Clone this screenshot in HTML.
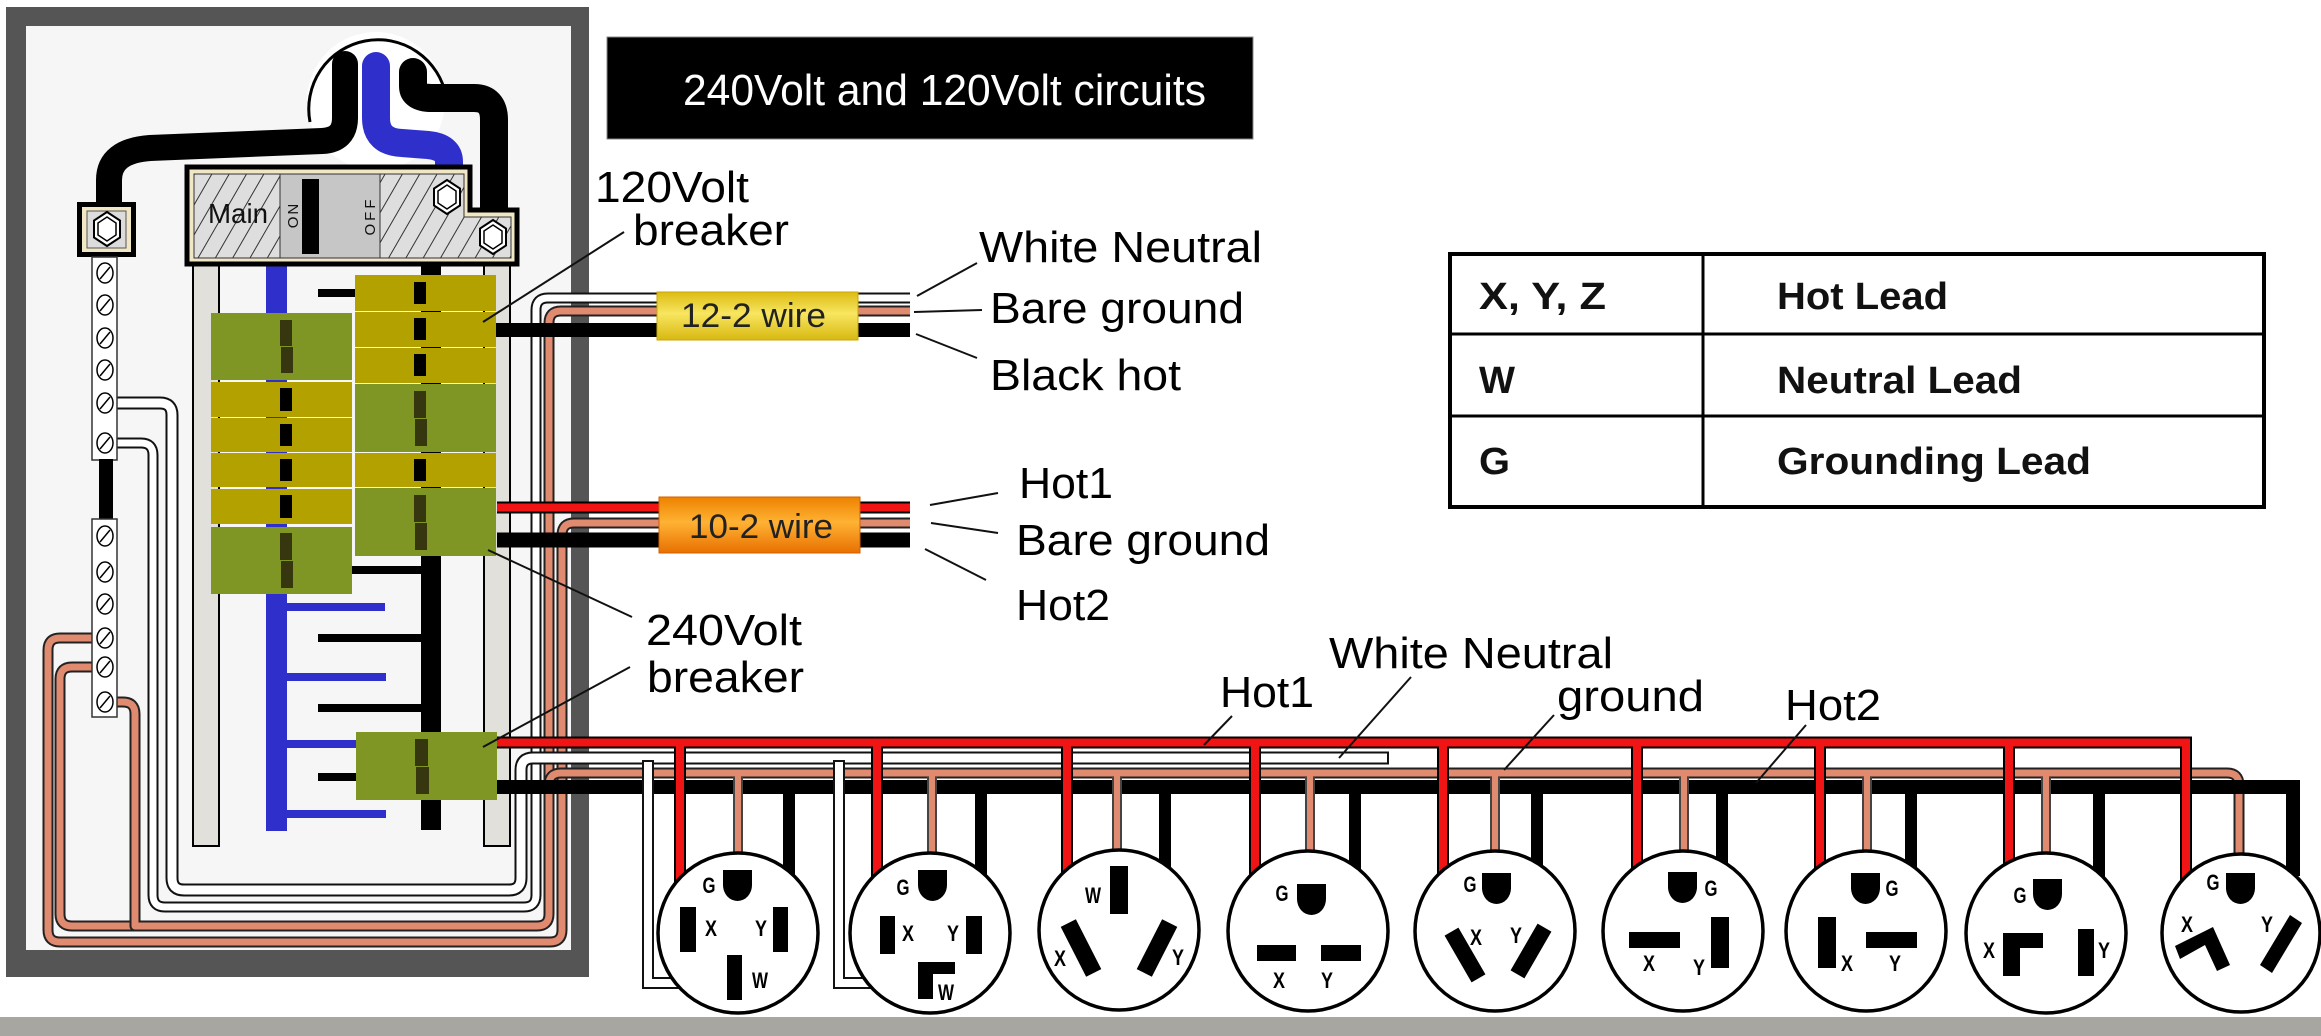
<!DOCTYPE html>
<html><head><meta charset="utf-8">
<style>html,body{margin:0;padding:0;background:#fff;overflow:hidden}svg{display:block}text{font-family:"Liberation Sans",sans-serif}</style>
</head><body>
<svg xmlns="http://www.w3.org/2000/svg" xmlns:xlink="http://www.w3.org/1999/xlink" width="2321" height="1036" viewBox="0 0 2321 1036">
<defs>
<pattern id="hatch" width="15" height="15" patternUnits="userSpaceOnUse" patternTransform="rotate(30)">
<rect width="15" height="15" fill="#dedede"/>
<line x1="0.5" y1="0" x2="0.5" y2="15" stroke="#333" stroke-width="1"/>
</pattern>
<linearGradient id="yel" x1="0" y1="0" x2="0" y2="1">
<stop offset="0" stop-color="#dcbc14"/><stop offset="0.45" stop-color="#f8e660"/><stop offset="1" stop-color="#d8b810"/>
</linearGradient>
<linearGradient id="org" x1="0" y1="0" x2="0" y2="1">
<stop offset="0" stop-color="#ee8200"/><stop offset="0.45" stop-color="#ffb234"/><stop offset="1" stop-color="#e87000"/>
</linearGradient>
<g id="hex"><polygon points="0,-17 13,-8.5 13,8.5 0,17 -13,8.5 -13,-8.5" fill="#fff" stroke="#000" stroke-width="2"/><polygon points="0,-12 9,-6 9,6 0,12 -9,6 -9,-6" fill="#fff" stroke="#000" stroke-width="1.5"/></g>
<g id="screw"><ellipse rx="8" ry="10" fill="#fff" stroke="#000" stroke-width="1.5"/><line x1="-5" y1="6" x2="5" y2="-6" stroke="#000" stroke-width="1.5"/></g>
</defs>

<rect width="2321" height="1036" fill="#fff"/>
<rect x="0" y="1017" width="2321" height="19" fill="#a8a6a1"/>

<!-- panel frame -->
<rect x="6" y="7" width="583" height="970" fill="#555"/>
<rect x="26" y="26" width="545" height="924" fill="#f6f6f6"/>

<!-- service entrance -->
<circle cx="376" cy="101" r="69" fill="#fff"/>
<path d="M310,122 A69,69 0 1 1 446,96" fill="none" stroke="#000" stroke-width="3"/>
<path d="M345,64 V118 Q345,140 322,141 L150,148 Q109,151 109,180 V206" fill="none" stroke="#000" stroke-width="26" stroke-linecap="round"/>
<path d="M376,66 V118 Q376,142 402,143 L428,145 Q449,147 449,162 V172" fill="none" stroke="#2f2fcc" stroke-width="28" stroke-linecap="round"/>
<path d="M413,72 V86 Q413,98 432,98 H474 Q494,98 494,120 V214" fill="none" stroke="#000" stroke-width="28" stroke-linecap="round"/>

<!-- rails and buses -->
<rect x="193" y="262" width="26" height="584" fill="#e2e0da" stroke="#000" stroke-width="2"/>
<rect x="484" y="262" width="26" height="584" fill="#e2e0da" stroke="#000" stroke-width="2"/>
<rect x="266" y="262" width="21" height="569" fill="#2f2fcc"/>
<rect x="421" y="262" width="20" height="568" fill="#000"/>
<g fill="#2f2fcc">
<rect x="287" y="603" width="98" height="8"/>
<rect x="287" y="673" width="99" height="8"/>
<rect x="287" y="740" width="69" height="8"/>
<rect x="287" y="810" width="99" height="8"/>
</g>
<g fill="#000">
<rect x="352" y="566" width="69" height="8"/>
<rect x="318" y="634" width="103" height="8"/>
<rect x="318" y="704" width="103" height="8"/>
<rect x="318" y="773" width="38" height="8"/>
<rect x="318" y="289" width="37" height="8"/>
</g>

<!-- main breaker -->
<path d="M187,167 H470 V210 H517 V264 H187 Z" fill="#f1e7c5" stroke="#000" stroke-width="5"/>
<path d="M194,174 H464 V217 H511 V258 H194 Z" fill="url(#hatch)" stroke="#333" stroke-width="1"/>
<rect x="280" y="174" width="100" height="84" fill="#c6c6c6" stroke="#333" stroke-width="1"/>
<rect x="302" y="179" width="17" height="75" fill="#000"/>
<text x="208" y="223" font-size="28" textLength="60" lengthAdjust="spacingAndGlyphs" fill="#111">Main</text>
<text transform="translate(298,215) rotate(-90)" font-size="15" text-anchor="middle" letter-spacing="2" fill="#111">ON</text>
<text transform="translate(375,216) rotate(-90)" font-size="15" text-anchor="middle" letter-spacing="3" fill="#111">OFF</text>
<use xlink:href="#hex" x="447" y="197"/>
<use xlink:href="#hex" x="493" y="237"/>

<!-- breakers -->
<g fill="#b3a100">
<rect x="211" y="382" width="141" height="35"/>
<rect x="211" y="418" width="141" height="34"/>
<rect x="211" y="453" width="141" height="34"/>
<rect x="211" y="489" width="141" height="35"/>
<rect x="355" y="275" width="141" height="36"/>
<rect x="355" y="312" width="141" height="35"/>
<rect x="355" y="348" width="141" height="35"/>
<rect x="355" y="453" width="141" height="34"/>
</g>
<g fill="#7f9524">
<rect x="211" y="313" width="141" height="67"/>
<rect x="211" y="527" width="141" height="67"/>
<rect x="355" y="384" width="141" height="68"/>
<rect x="355" y="488" width="141" height="68"/>
<rect x="356" y="732" width="141" height="68"/>
</g>
<g fill="#000">
<rect x="280" y="388" width="12" height="23"/>
<rect x="280" y="424" width="12" height="22"/>
<rect x="280" y="459" width="12" height="22"/>
<rect x="280" y="495" width="12" height="23"/>
<rect x="414" y="282" width="12" height="22"/>
<rect x="414" y="318" width="12" height="22"/>
<rect x="414" y="354" width="12" height="22"/>
<rect x="414" y="459" width="12" height="22"/>
</g>
<g fill="#36360f">
<rect x="280" y="320" width="12" height="26"/><rect x="281" y="347" width="12" height="26"/>
<rect x="280" y="533" width="12" height="27"/><rect x="281" y="561" width="12" height="27"/>
<rect x="414" y="391" width="12" height="27"/><rect x="415" y="419" width="12" height="27"/>
<rect x="414" y="495" width="12" height="27"/><rect x="415" y="523" width="12" height="27"/>
<rect x="415" y="739" width="13" height="27"/><rect x="416" y="767" width="13" height="27"/>
</g>

<!-- loop wires: white A (12-2 neutral) -->
<g fill="none" stroke-linejoin="round">
<path d="M107,443 H141 Q153,443 153,455 V895 Q153,907 165,907 H524 Q536,907 536,895 V310 Q536,298 548,298 H910" stroke="#111" stroke-width="11"/>
<path d="M107,443 H141 Q153,443 153,455 V895 Q153,907 165,907 H524 Q536,907 536,895 V310 Q536,298 548,298 H910" stroke="#fff" stroke-width="7"/>
<!-- S1 (12-2 ground) -->
<path d="M107,667 H72 Q60,667 60,679 V914 Q60,926 72,926 H537 Q549,926 549,914 V323 Q549,311 561,311 H910" stroke="#222" stroke-width="11"/>
<path d="M107,667 H72 Q60,667 60,679 V914 Q60,926 72,926 H537 Q549,926 549,914 V323 Q549,311 561,311 H910" stroke="#e08a70" stroke-width="7"/>
<!-- S2 (10-2 ground) -->
<path d="M107,638 H60 Q48,638 48,650 V930 Q48,942 60,942 H550 Q562,942 562,930 V535 Q562,523 574,523 H910" stroke="#222" stroke-width="11"/>
<path d="M107,638 H60 Q48,638 48,650 V930 Q48,942 60,942 H550 Q562,942 562,930 V535 Q562,523 574,523 H910" stroke="#e08a70" stroke-width="7"/>
<!-- S3 -->
<path d="M107,702 H123 Q135,702 135,714 V926 H200" stroke="#222" stroke-width="11"/>
<path d="M107,702 H123 Q135,702 135,714 V926 H205" stroke="#e08a70" stroke-width="7"/>
<!-- white B (240 neutral) -->
<path d="M107,403 H160 Q172,403 172,415 V878 Q172,890 184,890 H509 Q521,890 521,878 V770 Q521,758 533,758 H1389" stroke="#111" stroke-width="13"/>
<path d="M107,403 H160 Q172,403 172,415 V878 Q172,890 184,890 H509 Q521,890 521,878 V770 Q521,758 533,758 H1387" stroke="#fff" stroke-width="9"/>
<!-- S3b 240 ground -->
<path d="M549,792 V785 Q549,773 561,773 H2227 Q2239,773 2239,785 V880" stroke="#222" stroke-width="11"/>
<path d="M549,792 V785 Q549,773 561,773 H2227 Q2239,773 2239,785 V880" stroke="#e08a70" stroke-width="7"/>
</g>

<!-- hot wires -->
<g fill="none" stroke-linejoin="miter">
<path d="M496,330 H910" stroke="#000" stroke-width="14"/>
<path d="M497,507.5 H910" stroke="#000" stroke-width="12"/>
<path d="M497,507.5 H910" stroke="#f01414" stroke-width="8"/>
<path d="M497,540 H910" stroke="#000" stroke-width="15"/>
<path d="M497,787 H2293 V876" stroke="#000" stroke-width="14"/>
<path d="M497,742.5 H2186 V880" stroke="#000" stroke-width="12"/>
<path d="M497,742.5 H2186 V880" stroke="#f01414" stroke-width="8"/>
</g>

<!-- drops -->
<g fill="none">
<path d="M680,748V900M877,748V900M1067,748V900M1255,748V900M1443,748V900M1637,748V900M1820,748V900M2009,748V900" stroke="#000" stroke-width="12"/>
<path d="M680,744V900M877,744V900M1067,744V900M1255,744V900M1443,744V900M1637,744V900M1820,744V900M2009,744V900" stroke="#f01414" stroke-width="8"/>
<path d="M738,777V880M932,777V880M1117,777V880M1310,777V880M1495,777V880M1684,777V880M1867,777V880M2046,777V880" stroke="#444" stroke-width="10"/>
<path d="M738,775V880M932,775V880M1117,775V880M1310,775V880M1495,775V880M1684,775V880M1867,775V880M2046,775V880" stroke="#e08a70" stroke-width="6"/>
<path d="M789,787V900M981,787V900M1165,787V900M1355,787V900M1537,787V900M1722,787V900M1911,787V900M2099,787V900" stroke="#000" stroke-width="12"/>
<path d="M648,760 V983 H700 M839,760 V983 H890" stroke="#111" stroke-width="12"/>
<path d="M648,762 V983 H700 M839,762 V983 H890" stroke="#fff" stroke-width="8"/>
</g>

<!-- ground / neutral bars -->
<rect x="77" y="202" width="59" height="55" fill="#000"/>
<rect x="82" y="207" width="49" height="45" fill="#f1e7c5"/>
<rect x="87" y="211" width="39" height="37" fill="#dcdcdc" stroke="#555" stroke-width="1"/>
<use xlink:href="#hex" x="107" y="229"/>
<rect x="92" y="257" width="25" height="203" fill="#fff" stroke="#333" stroke-width="1.5"/>
<rect x="99" y="459" width="14" height="62" fill="#000"/>
<rect x="92" y="519" width="25" height="198" fill="#fff" stroke="#333" stroke-width="1.5"/>
<use xlink:href="#screw" x="105" y="273"/>
<use xlink:href="#screw" x="105" y="305"/>
<use xlink:href="#screw" x="105" y="338"/>
<use xlink:href="#screw" x="105" y="370"/>
<use xlink:href="#screw" x="105" y="403"/>
<use xlink:href="#screw" x="105" y="443"/>
<use xlink:href="#screw" x="105" y="536"/>
<use xlink:href="#screw" x="105" y="572"/>
<use xlink:href="#screw" x="105" y="604"/>
<use xlink:href="#screw" x="105" y="638"/>
<use xlink:href="#screw" x="105" y="667"/>
<use xlink:href="#screw" x="105" y="702"/>

<!-- receptacles -->
<g fill="#fff" stroke="#000" stroke-width="3.5">
<circle cx="738" cy="933" r="80"/>
<circle cx="930" cy="933" r="80"/>
<circle cx="1119" cy="930" r="80"/>
<circle cx="1308" cy="931" r="80"/>
<circle cx="1495" cy="931" r="80"/>
<circle cx="1683" cy="931" r="80"/>
<circle cx="1866" cy="931" r="80"/>
<circle cx="2046" cy="933" r="80"/>
<circle cx="2241" cy="933" r="79"/>
</g>
<g fill="#000">
<!-- G slots -->
<path d="M723,870 H752 V885 A14.5,16 0 0 1 723,885 Z"/>
<path d="M918,870 H947 V885 A14.5,16 0 0 1 918,885 Z"/>
<path d="M1297,884 H1326 V899 A14.5,16 0 0 1 1297,899 Z"/>
<path d="M1482,873 H1511 V888 A14.5,16 0 0 1 1482,888 Z"/>
<path d="M1668,872 H1697 V887 A14.5,16 0 0 1 1668,887 Z"/>
<path d="M1851,873 H1880 V888 A14.5,16 0 0 1 1851,888 Z"/>
<path d="M2033,879 H2062 V894 A14.5,16 0 0 1 2033,894 Z"/>
<path d="M2226,873 H2255 V888 A14.5,16 0 0 1 2226,888 Z"/>
<!-- rec1 -->
<rect x="680" y="907" width="16" height="45"/>
<rect x="773" y="907" width="15" height="45"/>
<rect x="727" y="955" width="15" height="45"/>
<!-- rec2 -->
<rect x="880" y="916" width="15" height="38"/>
<rect x="966" y="916" width="16" height="38"/>
<path d="M918,962 H955 V974 H933 V999 H918 Z"/>
<!-- rec3 -->
<rect x="1110" y="866" width="18" height="48"/>
<rect x="1072.5" y="920" width="17" height="56" transform="rotate(-27 1081 948)"/>
<rect x="1148.5" y="920" width="17" height="56" transform="rotate(27 1157 948)"/>
<!-- rec4 -->
<rect x="1257" y="945" width="39" height="16"/>
<rect x="1321" y="945" width="40" height="16"/>
<!-- rec5 -->
<rect x="1457" y="928" width="16" height="54" transform="rotate(-30 1465 955)"/>
<rect x="1523" y="924" width="16" height="54" transform="rotate(30 1531 951)"/>
<!-- rec6 -->
<rect x="1629" y="932" width="51" height="16"/>
<rect x="1711" y="917" width="18" height="51"/>
<!-- rec7 -->
<rect x="1818" y="917" width="18" height="51"/>
<rect x="1866" y="932" width="51" height="16"/>
<!-- rec8 -->
<path d="M2003,933 H2043 V948 H2020 V976 H2003 Z"/>
<rect x="2078" y="929" width="16" height="47"/>
<!-- rec9 -->
<polygon points="2175,946 2213,927 2230,965 2217,971 2205,945 2180,959"/>
<polygon points="2290,915 2302,923 2272,973 2260,965"/>
</g>
<g font-size="22" font-weight="bold" text-anchor="middle" fill="#000">
<text x="709" y="893" textLength="13" lengthAdjust="spacingAndGlyphs">G</text>
<text x="711" y="936" textLength="12" lengthAdjust="spacingAndGlyphs">X</text>
<text x="761" y="936" textLength="12" lengthAdjust="spacingAndGlyphs">Y</text>
<text x="760" y="988" textLength="16" lengthAdjust="spacingAndGlyphs">W</text>
<text x="903" y="895" textLength="13" lengthAdjust="spacingAndGlyphs">G</text>
<text x="908" y="941" textLength="12" lengthAdjust="spacingAndGlyphs">X</text>
<text x="953" y="941" textLength="12" lengthAdjust="spacingAndGlyphs">Y</text>
<text x="946" y="1000" textLength="16" lengthAdjust="spacingAndGlyphs">W</text>
<text x="1093" y="903" textLength="16" lengthAdjust="spacingAndGlyphs">W</text>
<text x="1060" y="966" textLength="12" lengthAdjust="spacingAndGlyphs">X</text>
<text x="1178" y="965" textLength="12" lengthAdjust="spacingAndGlyphs">Y</text>
<text x="1282" y="901" textLength="13" lengthAdjust="spacingAndGlyphs">G</text>
<text x="1279" y="988" textLength="12" lengthAdjust="spacingAndGlyphs">X</text>
<text x="1327" y="988" textLength="12" lengthAdjust="spacingAndGlyphs">Y</text>
<text x="1470" y="892" textLength="13" lengthAdjust="spacingAndGlyphs">G</text>
<text x="1476" y="945" textLength="12" lengthAdjust="spacingAndGlyphs">X</text>
<text x="1516" y="943" textLength="12" lengthAdjust="spacingAndGlyphs">Y</text>
<text x="1711" y="896" textLength="13" lengthAdjust="spacingAndGlyphs">G</text>
<text x="1649" y="971" textLength="12" lengthAdjust="spacingAndGlyphs">X</text>
<text x="1699" y="975" textLength="12" lengthAdjust="spacingAndGlyphs">Y</text>
<text x="1892" y="896" textLength="13" lengthAdjust="spacingAndGlyphs">G</text>
<text x="1847" y="971" textLength="12" lengthAdjust="spacingAndGlyphs">X</text>
<text x="1895" y="971" textLength="12" lengthAdjust="spacingAndGlyphs">Y</text>
<text x="2020" y="903" textLength="13" lengthAdjust="spacingAndGlyphs">G</text>
<text x="1989" y="958" textLength="12" lengthAdjust="spacingAndGlyphs">X</text>
<text x="2104" y="958" textLength="12" lengthAdjust="spacingAndGlyphs">Y</text>
<text x="2213" y="890" textLength="13" lengthAdjust="spacingAndGlyphs">G</text>
<text x="2187" y="932" textLength="12" lengthAdjust="spacingAndGlyphs">X</text>
<text x="2267" y="932" textLength="12" lengthAdjust="spacingAndGlyphs">Y</text>
</g>

<!-- cable label boxes -->
<rect x="657" y="292" width="201" height="48" fill="url(#yel)" stroke="#c8a800" stroke-width="1"/>
<text x="681" y="327" font-size="34" textLength="145" lengthAdjust="spacingAndGlyphs" fill="#222">12-2 wire</text>
<rect x="659" y="497" width="201" height="56" fill="url(#org)" stroke="#d06000" stroke-width="1"/>
<text x="689" y="538" font-size="34" textLength="144" lengthAdjust="spacingAndGlyphs" fill="#222">10-2 wire</text>

<!-- leader lines -->
<g stroke="#111" stroke-width="2" fill="none">
<path d="M624,232 L483,322"/>
<path d="M632,617 L488,550"/>
<path d="M630,667 L483,747"/>
<path d="M977,263 L917,296"/>
<path d="M982,310 L914,312"/>
<path d="M977,358 L916,334"/>
<path d="M998,493 L930,505"/>
<path d="M998,533 L931,523"/>
<path d="M986,580 L925,549"/>
<path d="M1232,716 L1204,745"/>
<path d="M1411,677 L1339,758"/>
<path d="M1554,715 L1504,770"/>
<path d="M1806,725 L1756,783"/>
</g>

<!-- labels -->
<g font-size="44" fill="#000">
<text x="595" y="202" textLength="154" lengthAdjust="spacingAndGlyphs">120Volt</text>
<text x="633" y="245" textLength="156" lengthAdjust="spacingAndGlyphs">breaker</text>
<text x="979" y="262" textLength="283" lengthAdjust="spacingAndGlyphs">White Neutral</text>
<text x="990" y="323" textLength="254" lengthAdjust="spacingAndGlyphs">Bare ground</text>
<text x="990" y="390" textLength="191" lengthAdjust="spacingAndGlyphs">Black hot</text>
<text x="1019" y="498" textLength="94" lengthAdjust="spacingAndGlyphs">Hot1</text>
<text x="1016" y="555" textLength="254" lengthAdjust="spacingAndGlyphs">Bare ground</text>
<text x="1016" y="620" textLength="94" lengthAdjust="spacingAndGlyphs">Hot2</text>
<text x="646" y="645" textLength="156" lengthAdjust="spacingAndGlyphs">240Volt</text>
<text x="647" y="692" textLength="157" lengthAdjust="spacingAndGlyphs">breaker</text>
<text x="1329" y="668" textLength="284" lengthAdjust="spacingAndGlyphs">White Neutral</text>
<text x="1220" y="707" textLength="94" lengthAdjust="spacingAndGlyphs">Hot1</text>
<text x="1557" y="711" textLength="147" lengthAdjust="spacingAndGlyphs">ground</text>
<text x="1785" y="720" textLength="96" lengthAdjust="spacingAndGlyphs">Hot2</text>
</g>

<!-- title -->
<rect x="607" y="37" width="646" height="102" fill="#000" stroke="#888" stroke-width="1"/>
<text x="683" y="105" font-size="44" textLength="523" lengthAdjust="spacingAndGlyphs" fill="#fff">240Volt and 120Volt circuits</text>

<!-- table -->
<rect x="1450" y="254" width="814" height="253" fill="#fff" stroke="#000" stroke-width="4"/>
<line x1="1703" y1="254" x2="1703" y2="507" stroke="#000" stroke-width="3"/>
<line x1="1450" y1="334" x2="2264" y2="334" stroke="#000" stroke-width="3"/>
<line x1="1450" y1="416" x2="2264" y2="416" stroke="#000" stroke-width="3"/>
<g font-size="38" font-weight="bold" fill="#111">
<text x="1479" y="309" textLength="127" lengthAdjust="spacingAndGlyphs">X, Y, Z</text>
<text x="1777" y="309" textLength="171" lengthAdjust="spacingAndGlyphs">Hot Lead</text>
<text x="1479" y="393" textLength="36" lengthAdjust="spacingAndGlyphs">W</text>
<text x="1777" y="393" textLength="245" lengthAdjust="spacingAndGlyphs">Neutral Lead</text>
<text x="1479" y="474" textLength="31" lengthAdjust="spacingAndGlyphs">G</text>
<text x="1777" y="474" textLength="314" lengthAdjust="spacingAndGlyphs">Grounding Lead</text>
</g>
</svg>
</body></html>
